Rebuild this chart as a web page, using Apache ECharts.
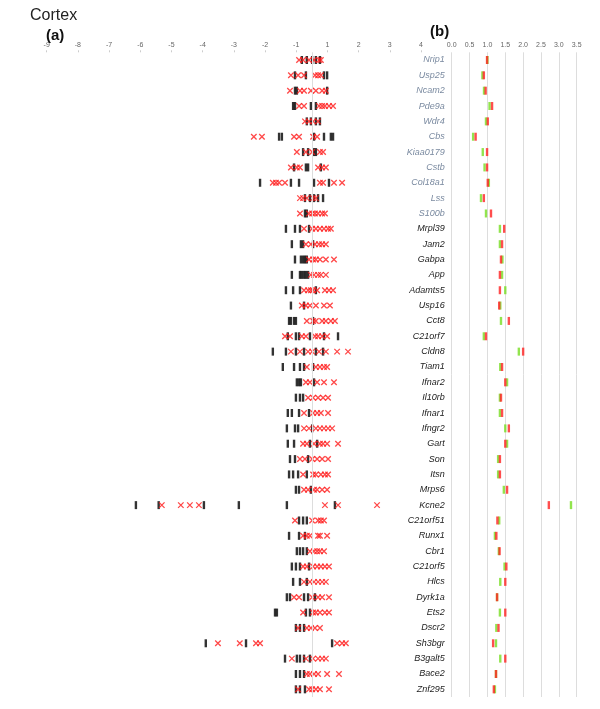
<!DOCTYPE html>
<html><head><meta charset="utf-8">
<script src="https://cdn.jsdelivr.net/npm/echarts@6/dist/echarts.min.js"></script>
<style>html,body{margin:0;padding:0;background:#fff}#c{width:600px;height:709px}</style>
</head><body><div id="c"></div>
<script>
var genes = ["Nrip1","Usp25","Ncam2","Pde9a","Wdr4","Cbs","Kiaa0179","Cstb","Col18a1","Lss","S100b","Mrpl39","Jam2","Gabpa","App","Adamts5","Usp16","Cct8","C21orf7","Cldn8","Tiam1","Ifnar2","Il10rb","Ifnar1","Ifngr2","Gart","Son","Itsn","Mrps6","Kcne2","C21orf51","Runx1","Cbr1","C21orf5","Hlcs","Dyrk1a","Ets2","Dscr2","Sh3bgr","B3galt5","Bace2","Znf295"];
var greyGeneCount = 11;
// panel (a): axis units (tick -9..-1 -> -8..0, tick 1..4 -> 1..4)
var aBlack = [
 [0.18,0.34,0.51,0.63,0.76],
 [-0.04,0.31,0.89,0.99],
 [-0.04,0.02,0.99],
 [-0.10,-0.04,0.47,0.63],
 [0.34,0.47,0.63,0.76],
 [-0.55,-0.46,0.57,0.89,1.11,1.18],
 [0.22,0.38,0.57,0.63],
 [-0.07,0.31,0.38,0.79],
 [-1.16,-0.17,0.09,0.57,1.05],
 [0.28,0.44,0.57,0.70,0.86],
 [0.28,0.34],
 [-0.33,-0.04,0.12,0.41],
 [-0.14,0.15,0.22,0.54],
 [-0.04,0.15,0.22,0.28,0.34],
 [-0.14,0.12,0.18,0.25,0.31,0.38],
 [-0.33,-0.10,0.12,0.63],
 [-0.17,0.25],
 [-0.23,-0.17,-0.07,-0.01,0.54],
 [-0.27,-0.01,0.09,0.44,0.89,1.34],
 [-0.75,-0.33,-0.01,0.25,0.63,0.86],
 [-0.43,-0.07,0.12,0.25,0.54],
 [0.02,0.09,0.15,0.57],
 [-0.01,0.12,0.22],
 [-0.27,-0.14,0.09,0.41],
 [-0.30,-0.04,0.06,0.51],
 [-0.27,-0.07,0.44,0.67],
 [-0.20,-0.04,0.38],
 [-0.23,-0.10,0.06,0.34],
 [-0.01,0.09,0.47],
 [-5.14,-4.41,-2.96,-1.84,-0.30,1.24],
 [0.09,0.22,0.34],
 [-0.23,0.09,0.28],
 [0.02,0.12,0.22,0.34],
 [-0.14,-0.01,0.12,0.41],
 [-0.10,0.12,0.34],
 [-0.30,-0.20,0.25,0.38,0.60],
 [-0.68,-0.62,0.31,0.44],
 [-0.01,0.12,0.25],
 [-2.90,-1.61,1.15],
 [-0.36,0.02,0.12,0.25,0.44],
 [-0.01,0.12,0.25],
 [-0.01,0.12,0.28]
];
var aRed = [
 [0.09,0.22,0.41,0.57,0.73,0.79],
 [-0.17,0.06,0.25,0.60,0.70,0.79],
 [-0.20,0.12,0.25,0.47,0.63,0.83,0.95],
 [0.09,0.25,0.73,0.83,0.92,1.05,1.18],
 [0.28,0.41,0.54,0.70],
 [-1.36,-1.10,-0.07,0.09,0.54,0.67],
 [0.02,0.31,0.51,0.76,0.86],
 [-0.17,0.02,0.12,0.70,0.83,0.95],
 [-0.75,-0.65,-0.55,-0.36,0.76,0.86,1.21,1.47],
 [0.12,0.22,0.34,0.54,0.63],
 [0.12,0.41,0.51,0.60,0.70,0.83,0.92],
 [0.25,0.51,0.63,0.76,0.89,1.02,1.11],
 [0.31,0.47,0.60,0.73,0.83,0.95],
 [0.41,0.54,0.63,0.76,0.95,1.21],
 [0.47,0.57,0.70,0.79,0.95],
 [0.25,0.38,0.47,0.54,0.67,0.92,1.05,1.18],
 [0.18,0.31,0.44,0.63,0.89,1.08],
 [0.34,0.54,0.63,0.83,0.95,1.11,1.24],
 [-0.36,-0.20,0.18,0.31,0.60,0.70,0.83,0.99],
 [-0.17,0.12,0.38,0.51,0.73,0.95,1.31,1.66],
 [0.34,0.63,0.76,0.89,0.99],
 [0.31,0.44,0.67,0.89,1.21],
 [0.38,0.54,0.70,0.86,1.02],
 [0.25,0.54,0.67,0.79,1.02],
 [0.25,0.41,0.63,0.76,0.89,1.02,1.15],
 [0.22,0.34,0.57,0.76,0.86,0.99,1.34],
 [0.12,0.28,0.51,0.67,0.83,1.02],
 [0.22,0.54,0.63,0.79,0.92,1.02],
 [0.25,0.38,0.57,0.67,0.83,0.99],
 [-4.31,-3.70,-3.41,-3.12,0.92,1.34,2.59],
 [-0.04,0.51,0.70,0.79,0.89],
 [0.22,0.34,0.44,0.70,0.76,0.99],
 [0.44,0.57,0.67,0.76,0.89],
 [0.22,0.34,0.54,0.67,0.79,0.92,1.05],
 [0.25,0.44,0.57,0.70,0.83,0.95],
 [-0.07,0.09,0.51,0.70,0.83,1.05],
 [0.22,0.54,0.63,0.76,0.92,1.05],
 [0.06,0.34,0.47,0.60,0.76],
 [-2.51,-1.81,-1.29,-1.16,1.31,1.47,1.59],
 [-0.14,0.31,0.54,0.70,0.83,0.95],
 [0.34,0.44,0.57,0.70,0.99,1.37],
 [0.06,0.41,0.51,0.63,0.76,1.05]
];
// panel (b)
var bGreen = [1.00,0.86,0.905,1.06,0.96,0.60,0.87,0.92,1.04,0.82,0.96,1.35,1.35,1.42,1.41,1.50,1.36,1.38,0.90,1.88,1.36,1.55,1.35,1.35,1.50,1.55,1.30,1.30,1.46,3.34,1.33,1.21,1.32,1.48,1.36,1.27,1.35,1.25,1.24,1.36,1.24,1.21];
var bRed   = [0.99,0.90,0.95,1.13,1.01,0.67,0.99,0.99,1.01,0.90,1.10,1.47,1.41,1.38,1.35,1.35,1.33,1.60,0.96,2.00,1.41,1.50,1.38,1.41,1.60,1.50,1.35,1.35,1.55,2.72,1.28,1.25,1.34,1.53,1.50,1.27,1.50,1.31,1.16,1.50,1.24,1.18];

function pts(arr){var out=[];arr.forEach(function(r,i){r.forEach(function(v){out.push([v,genes[i]]);});});return out;}
function pts1(arr){return arr.map(function(v,i){return [v,genes[i]];});}

var TOP=52.3, H=644.7;
var chart = echarts.init(document.getElementById('c'), null, {renderer:'canvas'});
var xMark = 'path://M0,0L10,10M0,10L10,0';
chart.setOption({
  animation:false,
  textStyle:{fontFamily:'Liberation Sans, Arial, sans-serif'},
  title:[
    {text:'Cortex',left:25,top:3,textStyle:{fontSize:16,fontWeight:'normal',color:'#222'}},
    {text:'(a)',left:41,top:23,textStyle:{fontSize:15,fontWeight:'bold',color:'#111'}},
    {text:'(b)',left:425,top:19,textStyle:{fontSize:15,fontWeight:'bold',color:'#111'}}
  ],
  grid:[
    {left:46.7,width:374.3,top:TOP,height:H},
    {left:451.7,width:125,top:TOP,height:H}
  ],
  xAxis:[
    {gridIndex:0,type:'value',position:'top',min:-8,max:4,interval:1,
     axisLine:{lineStyle:{color:'#ddd'}},axisTick:{show:true,length:2,lineStyle:{color:'#ccc'}},
     splitLine:{show:false},
     axisLabel:{fontSize:7,color:'#666',margin:4,formatter:function(v){return String(v<=0?v-1:v);}}},
    {gridIndex:1,type:'value',position:'top',min:0,max:3.5,interval:0.5,
     axisLine:{lineStyle:{color:'#ddd'}},axisTick:{show:false},
     splitLine:{show:true,lineStyle:{color:'#ddd',width:1}},
     axisLabel:{fontSize:7,color:'#666',margin:4,formatter:function(v){return v.toFixed(1);}}}
  ],
  yAxis:[
    {gridIndex:0,type:'category',data:genes,inverse:true,show:false},
    {gridIndex:1,type:'category',data:genes,inverse:true,
     axisLine:{show:false},axisTick:{show:false},splitLine:{show:false},
     axisLabel:{fontSize:9,fontStyle:'italic',margin:7,interval:0,
       color:function(v,i){return genes.indexOf(v)<greyGeneCount?'#7a8aa0':'#222';}}}
  ],
  series:[
    {type:'scatter',xAxisIndex:0,yAxisIndex:0,data:pts(aBlack),symbol:'rect',symbolSize:[2.4,8],
     itemStyle:{color:'#000'},silent:true,
     markLine:{silent:true,symbol:'none',label:{show:false},lineStyle:{color:'#ddd',type:'solid',width:1},data:[{xAxis:0.5}]}},
    {type:'scatter',xAxisIndex:0,yAxisIndex:0,data:pts(aRed),symbol:xMark,symbolSize:5.5,
     itemStyle:{color:'none',borderColor:'#ff1a1a',borderWidth:1.3},silent:true},
    {type:'scatter',xAxisIndex:1,yAxisIndex:1,data:pts1(bGreen),symbol:'rect',symbolSize:[2.4,8],
     itemStyle:{color:'#77dd22'},silent:true},
    {type:'scatter',xAxisIndex:1,yAxisIndex:1,data:pts1(bRed),symbol:'rect',symbolSize:[2.4,8],
     itemStyle:{color:'#ff2222'},silent:true}
  ]
});
</script></body></html>
